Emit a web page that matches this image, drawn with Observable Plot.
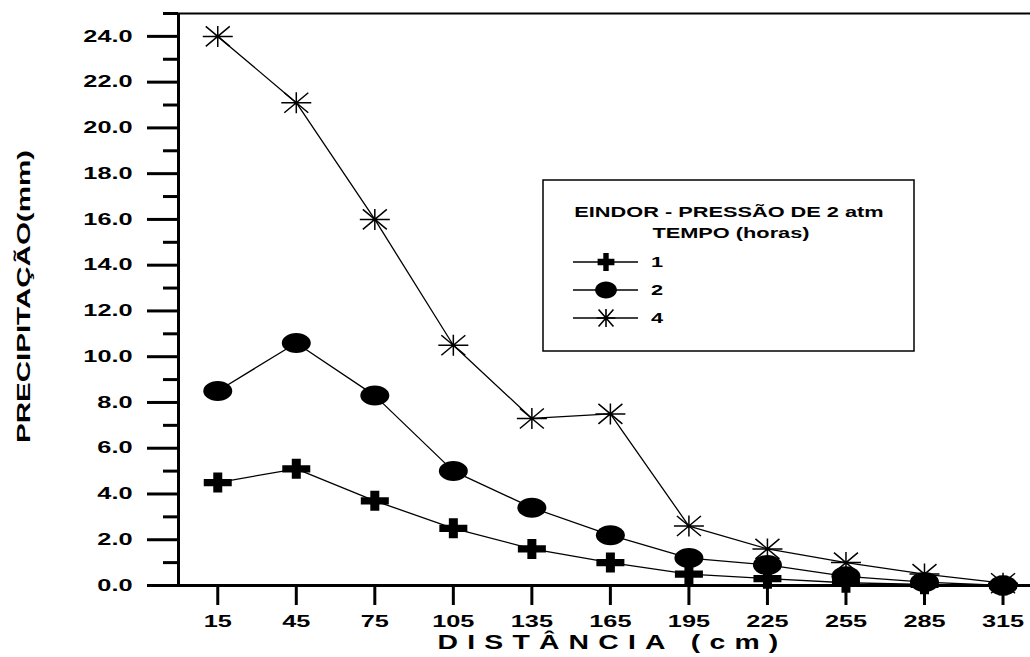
<!DOCTYPE html>
<html>
<head>
<meta charset="utf-8">
<script src="https://cdn.jsdelivr.net/npm/d3@7"></script>
<script src="https://cdn.jsdelivr.net/npm/@observablehq/plot@0.6"></script>
<style>
html, body { margin: 0; padding: 0; background: #fff; }
#chart { position: relative; width: 1030px; height: 657px; }
</style>
</head>
<body>
<div id="chart"></div>
<script>
// ---- data ----
const distances = [15, 45, 75, 105, 135, 165, 195, 225, 255, 285, 315];
const hours1 = [4.5, 5.1, 3.7, 2.5, 1.6, 1.0, 0.5, 0.3, 0.12, 0.05, 0.0];
const hours2 = [8.5, 10.6, 8.3, 5.0, 3.4, 2.2, 1.2, 0.9, 0.4, 0.15, 0.0];
const hours4 = [24.0, 21.1, 16.0, 10.5, 7.3, 7.5, 2.6, 1.6, 1.0, 0.5, 0.1];
const seriesNames = ["1", "2", "4"];
const yMajorTicks = [0, 2, 4, 6, 8, 10, 12, 14, 16, 18, 20, 22, 24];
const yMinorTicks = [1, 3, 5, 7, 9, 11, 13, 15, 17, 19, 21, 23, 25];
const legendTitle = ["EINDOR - PRESSÃO DE 2 atm", "TEMPO (horas)"];
const xLabel = "DISTÂNCIA (cm)";
const yLabel = "PRECIPITAÇÃO(mm)";

const table = [];
[hours1, hours2, hours4].forEach((vals, k) => {
  distances.forEach((d, i) => table.push({ d, v: vals[i], s: seriesNames[k] }));
});

// ---- custom symbols ----
const plusSym = { draw(c) {
  const w = 14, h = 10, tw = 4.5, th = 3.6;
  c.moveTo(-tw, -h); c.lineTo(tw, -h); c.lineTo(tw, -th); c.lineTo(w, -th);
  c.lineTo(w, th); c.lineTo(tw, th); c.lineTo(tw, h); c.lineTo(-tw, h);
  c.lineTo(-tw, th); c.lineTo(-w, th); c.lineTo(-w, -th); c.lineTo(-tw, -th);
  c.closePath();
}};
const ellipseSym = { draw(c) {
  const rx = 14.5, ry = 10, k = 0.5523;
  c.moveTo(rx, 0);
  c.bezierCurveTo(rx, ry * k, rx * k, ry, 0, ry);
  c.bezierCurveTo(-rx * k, ry, -rx, ry * k, -rx, 0);
  c.bezierCurveTo(-rx, -ry * k, -rx * k, -ry, 0, -ry);
  c.bezierCurveTo(rx * k, -ry, rx, -ry * k, rx, 0);
  c.closePath();
}};
const starSym = { draw(c) {
  const rx = 15, ry = 10.5, dx = 12, dy = 10;
  c.moveTo(-rx, 0); c.lineTo(rx, 0);
  c.moveTo(0, -ry); c.lineTo(0, ry);
  c.moveTo(-dx, -dy); c.lineTo(dx, dy);
  c.moveTo(-dx, dy); c.lineTo(dx, -dy);
}};

const plot = Plot.plot({
  width: 1030,
  height: 657,
  marginLeft: 178,
  marginRight: 0,
  marginTop: 13,
  marginBottom: 72,
  x: { domain: [0, 325.5], axis: null },
  y: { domain: [0, 25], axis: null },
  style: { fontFamily: '"Liberation Sans", Arial, sans-serif', fontWeight: "bold", color: "black", background: "white" },
  marks: [
    Plot.ruleY([25], { stroke: "black", strokeWidth: 2 }),
    Plot.axisY({ ticks: yMajorTicks, tickSize: 31, tickPadding: 15, tickFormat: d => d.toFixed(1), fontSize: 16, strokeWidth: 3, label: null }),
    Plot.axisY({ ticks: yMinorTicks, tickSize: 15, tickFormat: () => "", strokeWidth: 3, label: null }),
    Plot.axisX({ ticks: distances, tickSize: 20, tickPadding: 10, fontSize: 16, strokeWidth: 3, label: null }),
    Plot.ruleY([0], { stroke: "black", strokeWidth: 3 }),
    Plot.ruleX([0], { stroke: "black", strokeWidth: 3 }),
    Plot.line(table, { x: "d", y: "v", z: "s", stroke: "black", strokeWidth: 1.3 }),
    Plot.dot(table.filter(r => r.s === "4"), { x: "d", y: "v", symbol: starSym, fill: "none", stroke: "black", strokeWidth: 1.5 }),
    Plot.dot(table.filter(r => r.s === "2"), { x: "d", y: "v", symbol: ellipseSym, fill: "black", stroke: "none" }),
    Plot.dot(table.filter(r => r.s === "1"), { x: "d", y: "v", symbol: plusSym, fill: "black", stroke: "none" }),
    Plot.text([xLabel], { frameAnchor: "bottom", dy: 57, dx: 8, textAnchor: "middle", lineAnchor: "middle", fontSize: 20 }),
    Plot.text([yLabel], { frameAnchor: "left", dx: -155, dy: -3, rotate: -90, textAnchor: "middle", lineAnchor: "middle", fontSize: 19 })
  ]
});

document.getElementById("chart").appendChild(plot);
const svg = d3.select(plot);

// ---- legend ----
const lg = svg.append("g").attr("font-weight", "bold");
lg.append("rect").attr("x", 543).attr("y", 180).attr("width", 371).attr("height", 171)
  .attr("fill", "white").attr("stroke", "black").attr("stroke-width", 1.5);
lg.append("text").attr("class", "lgt").attr("x", 729).attr("y", 212).attr("dy", "0.35em")
  .attr("text-anchor", "middle").attr("font-size", 15).text(legendTitle[0]);
lg.append("text").attr("class", "lgt").attr("x", 731).attr("y", 233).attr("dy", "0.35em")
  .attr("text-anchor", "middle").attr("font-size", 15).text(legendTitle[1]);
const legSyms = [
  { s: plusSym, fill: "black", stroke: "none", t: "scale(0.6,0.9)" },
  { s: ellipseSym, fill: "black", stroke: "none", t: "scale(0.75,0.85)" },
  { s: starSym, fill: "none", stroke: "black", t: "scale(0.62,0.85)" }
];
seriesNames.forEach((n, i) => {
  const y = 262 + 28 * i;
  lg.append("line").attr("x1", 573).attr("x2", 638).attr("y1", y).attr("y2", y)
    .attr("stroke", "black").attr("stroke-width", 1.3);
  lg.append("path").attr("d", d3.symbol(legSyms[i].s)())
    .attr("transform", `translate(606,${y}) ${legSyms[i].t}`)
    .attr("fill", legSyms[i].fill).attr("stroke", legSyms[i].stroke)
    .attr("stroke-width", 1.6).attr("vector-effect", "non-scaling-stroke");
  lg.append("text").attr("class", "lgt").attr("x", 657).attr("y", y).attr("dy", "0.35em")
    .attr("font-size", 15).text(n);
});

// ---- widen glyphs to match the reference's extended lettering ----
function stretch(sel, f) {
  sel.each(function () {
    const L = this.getComputedTextLength();
    if (L > 0) {
      this.setAttribute("textLength", (L * f).toFixed(1));
      this.setAttribute("lengthAdjust", "spacingAndGlyphs");
    }
  });
}
function stretchTo(sel, target) {
  sel.each(function () {
    this.setAttribute("textLength", target);
    this.setAttribute("lengthAdjust", "spacingAndGlyphs");
  });
}
const allText = svg.selectAll("text");
stretch(allText.filter(function () { return /^\d+(\.\d)?$/.test(this.textContent) && !this.classList.contains("lgt"); }), 1.58);
stretch(svg.selectAll("text.lgt"), 1.45);
const xl = allText.filter(function () { return this.textContent === xLabel; });
xl.style("letter-spacing", "6.5px");
stretchTo(xl, 350);
stretchTo(allText.filter(function () { return this.textContent === yLabel; }), 293);
</script>
</body>
</html>
